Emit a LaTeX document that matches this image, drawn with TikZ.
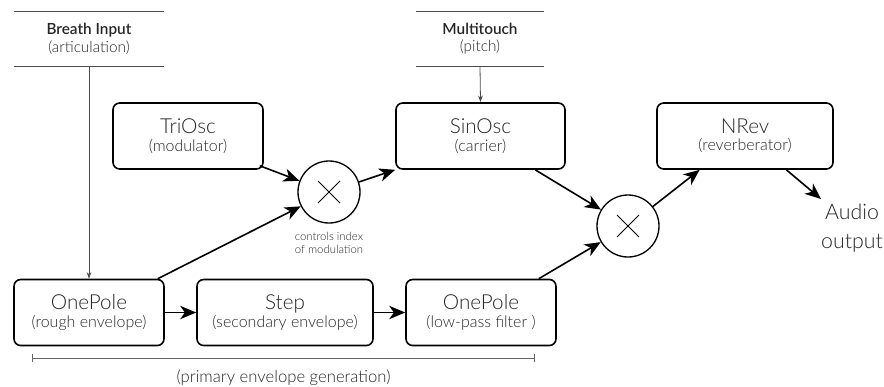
\documentclass[tikz,border=0pt]{standalone}
\usepackage{fontspec}
\setmainfont{Lato Light}[BoldFont=Lato Semibold]
\usetikzlibrary{arrows.meta}
\usetikzlibrary{positioning}

\tikzset{
	block/.style={draw, rounded corners=5pt, line width=1.2pt, align=center, inner sep=0pt, minimum height=49.5pt, text=black!85},
	mult/.style={draw, circle, line width=1pt, minimum size=46.5pt, inner sep=0pt},
	flow/.style={-{Stealth[length=12pt,width=10pt,inset=3.5pt]}, line width=1.2pt},
	feed/.style={-{Stealth[length=5pt,width=3.5pt]}, line width=0.6pt, black!70},
	inbox/.style={align=center, inner sep=0pt, minimum height=40.5pt, text=black!85},
}
\newcommand{\blocklabel}[2]{{\fontsize{15.5}{17}\selectfont #1}\\[1pt]{\fontsize{12}{13}\selectfont #2}}

\begin{document}
\begin{tikzpicture}[x=0.75pt, y=-0.75pt]
	\useasboundingbox (0,0) rectangle (884,386);
	
	% inputs
	\node[inbox, minimum width=112.5pt] (breath) at (89,39) {{\fontsize{11.5}{12}\selectfont\bfseries Breath Input}\\[1pt]{\fontsize{11.5}{12}\selectfont (articulation)}};
	\node[inbox, minimum width=96pt] (touch) at (480,39) {{\fontsize{11.5}{12}\selectfont\bfseries Multitouch}\\[1pt]{\fontsize{11.5}{12}\selectfont (pitch)}};
	\foreach \n in {breath, touch} {
		\draw[line width=0.6pt, black!70] (\n.north west) -- (\n.north east);
		\draw[line width=0.6pt, black!70] (\n.south west) -- (\n.south east);
	}
	
	% top row
	\node[block, minimum width=112.5pt] (tri) at (188,136) {\blocklabel{TriOsc}{(modulator)}};
	\node[block, minimum width=126.75pt] (sin) at (480.5,136) {\blocklabel{SinOsc}{(carrier)}};
	\node[block, minimum width=132pt] (nrev) at (745,136) {\blocklabel{NRev}{(reverberator)}};
	
	% bottom row
	\node[block, minimum width=112.5pt] (pole1) at (89,312.5) {\blocklabel{OnePole}{(rough envelope)}};
	\node[block, minimum width=132pt] (step) at (285,312.5) {\blocklabel{Step}{(secondary envelope)}};
	\node[block, minimum width=112.5pt] (pole2) at (481,312.5) {\blocklabel{OnePole}{(low-pass filter )}};
	
	% multipliers
	\node[mult] (m1) at (329,192) {};
	\node[mult] (m2) at (628,226) {};
	\foreach \m in {m1, m2} {
		\draw[line width=0.7pt] ([shift={(-11,-11)}]\m.center) -- ([shift={(11,11)}]\m.center);
		\draw[line width=0.7pt] ([shift={(-11,11)}]\m.center) -- ([shift={(11,-11)}]\m.center);
	}
	\node[below=3pt of m1, align=center, text=black!85, font=\fontsize{8.5}{10}\selectfont] (note) {controls index\\of modulation};
	
	\node[align=center, text=black!85, font=\fontsize{16}{22}\selectfont] (audio) at (852,228) {Audio\\output};
	\coordinate (out) at (821,199);
	
	% connections
	\draw[feed] (breath.south) -- (pole1.north);
	\draw[feed] (touch.south) -- (sin.north);
	
	\draw[flow] ([shift={(-4,-4)}]tri.south east) -- (m1);
	\draw[flow] ([xshift=-5.25pt]pole1.north east) -- (m1);
	\draw[flow] (m1) -- (sin.south west);
	\draw[flow] ([xshift=41pt]sin.south) -- (m2);
	\draw[flow] ([xshift=-13.5pt]pole2.north east) -- (m2);
	\draw[flow] (m2) -- ([xshift=-34pt]nrev.south);
	\draw[flow] ([xshift=31pt]nrev.south) -- (out);
	\draw[flow] (pole1) -- (step);
	\draw[flow] (step) -- (pole2);
	
	% bracket
	\coordinate (bl) at (32,358);
	\coordinate (br) at (535,358);
	\draw[|-|, line width=0.6pt, black!60] (bl) -- (br) node[midway, below=5pt, text=black!85, font=\fontsize{12.5}{14}\selectfont] {(primary envelope generation)};
\end{tikzpicture}
\end{document}
